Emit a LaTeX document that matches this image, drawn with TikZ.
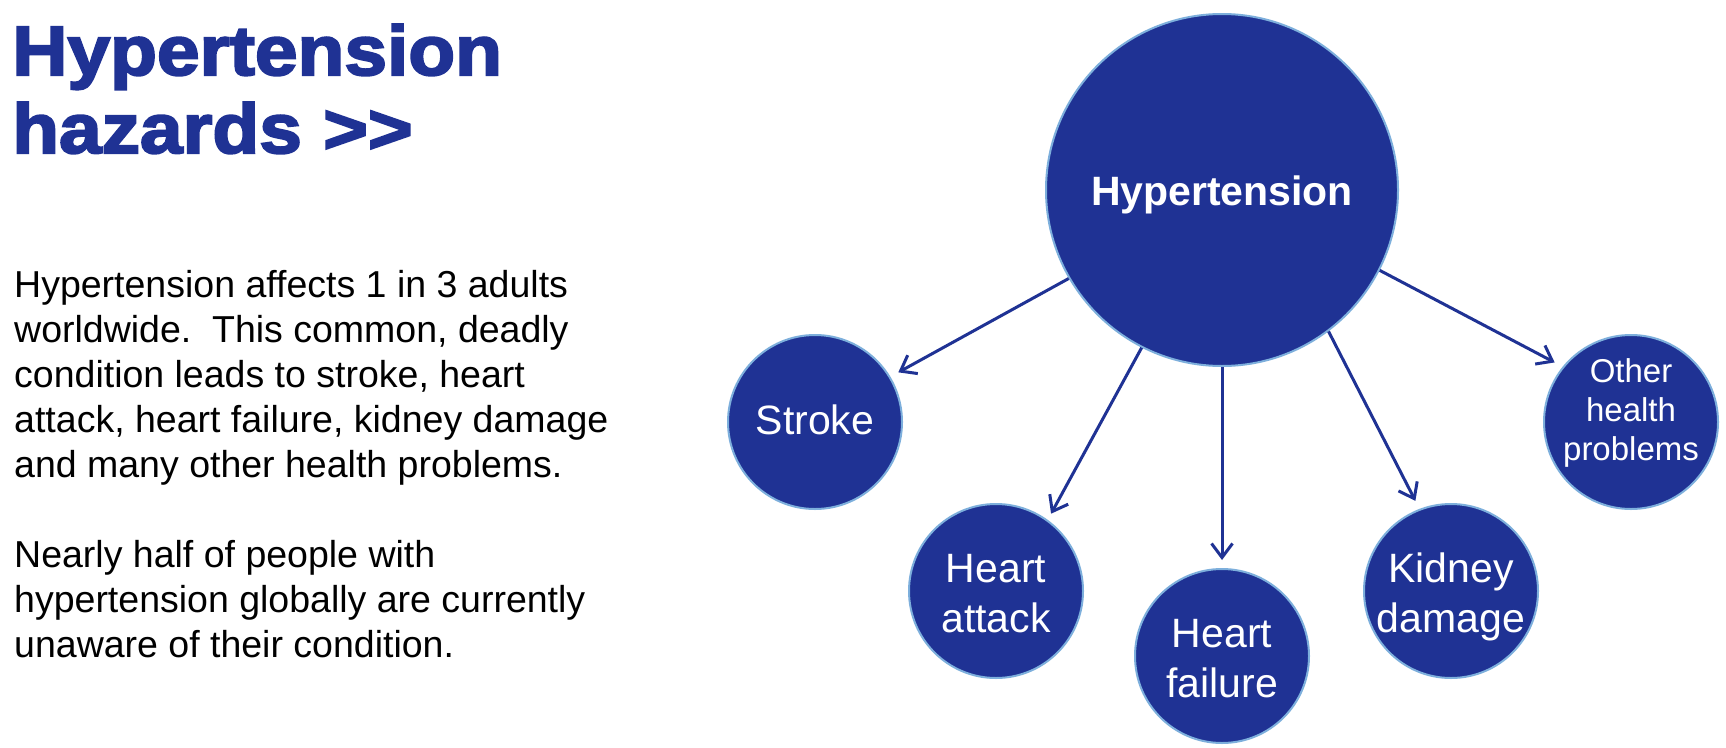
\documentclass[tikz,border=0pt]{standalone}
\usepackage{fontspec}
\setmainfont{Liberation Sans}
\newfontfamily\titlefont{Liberation Sans}[FakeStretch=1.095]
\usetikzlibrary{arrows.meta}
\definecolor{navy}{RGB}{31,50,148}
\definecolor{rim}{RGB}{125,175,220}
\begin{document}
\begin{tikzpicture}[x=1pt,y=-1pt,
  bigc/.style={circle,fill=navy,draw=rim,line width=2pt,minimum size=352pt,inner sep=0pt},
  smallc/.style={circle,fill=navy,draw=rim,line width=2pt,minimum size=174pt,inner sep=0pt},
  ctext/.style={anchor=base,inner sep=0pt,text=white,font=\fontsize{41}{50}\selectfont},
  link/.style={draw=navy,line width=3pt,-{Straight Barb[length=14pt,width=21pt]}},
  plain/.style={anchor=base west,inner sep=0pt}
]
\useasboundingbox (0,0) rectangle (1726,747);
\fill[white] (0,0) rectangle (1726,747);

% title
\node[plain,text=navy] (title) at (12,75)
  {\parbox[t]{800pt}{\titlefont\bfseries\addfontfeatures{FakeBold=3}\fontsize{70}{78}\selectfont Hypertension\\hazards >>}};

% body text
\node[plain] (para1) at (14,297)
  {\parbox[t]{800pt}{\fontsize{37.5}{45}\selectfont Hypertension affects 1 in 3 adults\\
   worldwide.\ \ This common, deadly\\
   condition leads to stroke, heart\\
   attack, heart failure, kidney damage\\
   and many other health problems.}};
\node[plain] (para2) at (14,567)
  {\parbox[t]{800pt}{\fontsize{37.5}{45}\selectfont Nearly half of people with\\
   hypertension globally are currently\\
   unaware of their condition.}};

% circles
\node[bigc] (hyp) at (1222,190) {};
\node[smallc] (stroke) at (815,422) {};
\node[smallc] (attack) at (996,591) {};
\node[smallc] (failure) at (1222,656) {};
\node[smallc] (kidney) at (1451,591) {};
\node[smallc] (other) at (1631,422) {};

% circle texts
\node[ctext,font=\bfseries\fontsize{41}{50}\selectfont] (hyptxt) at (1222,205) {Hypertension};
\node[ctext] (stroketxt) at (815,434) {Stroke};
\node[ctext] (attacktxt) at (996,582) {\parbox[t]{200pt}{\centering Heart\\attack}};
\node[ctext] (failuretxt) at (1222,647) {\parbox[t]{200pt}{\centering Heart\\failure}};
\node[ctext] (kidneytxt) at (1451,582) {\parbox[t]{200pt}{\centering Kidney\\damage}};
\node[ctext,font=\fontsize{33}{39}\selectfont] (othertxt) at (1631,382)
  {\parbox[t]{200pt}{\centering Other\\health\\problems}};

% connectors
\draw[link,shorten >=9pt] (hyp.-150) -- (stroke.31);
\draw[link,shorten >=7pt] (hyp.-117.6) -- (attack.54.8);
\draw[link,shorten >=8pt] (hyp.-90) -- (failure.90);
\draw[link,shorten >=9pt] (hyp.-53.7) -- (kidney.111.8);
\draw[link,shorten >=9pt] (hyp.-27.1) -- (other.141.7);
\end{tikzpicture}
\end{document}
